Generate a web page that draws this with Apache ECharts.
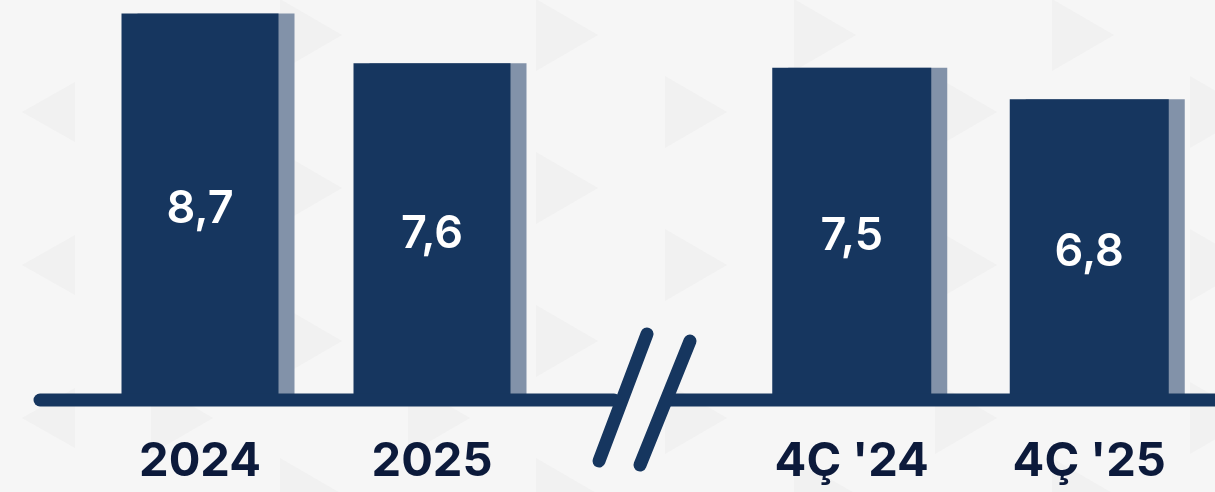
<!DOCTYPE html>
<html>
<head>
<meta charset="utf-8">
<script src="https://cdn.jsdelivr.net/npm/echarts@6/dist/echarts.min.js"></script>
<style>
html,body{margin:0;padding:0;background:#f6f6f6;}
#chart{width:1215px;height:492px;}
</style>
</head>
<body>
<div id="chart"></div>
<script>
// ---- data ----
const categoriesLeft = ['2024', '2025'];
const valuesLeft = [8.7, 7.6];
const categoriesRight = ["4Ç '24", "4Ç '25"];
const valuesRight = [7.5, 6.8];

// ---- styles ----
const NAVY = '#16365f';
const SHADE = '#8292a9';
const LABEL_DARK = '#0c1a3b';
const TRI = '#f1f1f1';

function tri(baseX, cy, dir, w, h) {
  // decorative background triangle
  const tip = baseX + dir * w;
  return {
    type: 'polygon', silent: true, z: -10,
    shape: { points: [[baseX, cy - h / 2], [baseX, cy + h / 2], [tip, cy]] },
    style: { fill: TRI }
  };
}
const bgShapes = [];
[112, 265, 418].forEach(c => bgShapes.push(tri(75, c, -1, 53, 60)));
const colsA = [280, 536, 794, 1052];
const colsB = [151, 408, 665, 935, 1190];
colsA.forEach(x => [35, 188, 341, 494].forEach(c => bgShapes.push(tri(x, c, 1, 62, 72))));
colsB.forEach(x => [-41, 112, 265, 418].forEach(c => bgShapes.push(tri(x, c, 1, 62, 72))));

const lineStyle = { stroke: NAVY, lineWidth: 13, lineCap: 'round' };
const decor = [
  { type: 'line', silent: true, z: 100, shape: { x1: 40, y1: 400, x2: 614, y2: 400 }, style: lineStyle },
  { type: 'line', silent: true, z: 100, shape: { x1: 670, y1: 400, x2: 1240, y2: 400 }, style: lineStyle },
  { type: 'line', silent: true, z: 101, shape: { x1: 647, y1: 334, x2: 599, y2: 461 }, style: lineStyle },
  { type: 'line', silent: true, z: 101, shape: { x1: 690, y1: 341, x2: 640, y2: 465 }, style: lineStyle }
];

const valueLabel = {
  show: true,
  position: 'inside',
  color: '#ffffff',
  fontFamily: 'Inter',
  fontWeight: 600,
  fontSize: 45,
  formatter: p => String(p.value).replace('.', ',')
};
const barItem = {
  color: NAVY,
  shadowColor: SHADE,
  shadowBlur: 0,
  shadowOffsetX: 16,
  shadowOffsetY: 0
};
const catLabel = {
  color: LABEL_DARK,
  fontFamily: 'Inter',
  fontWeight: 'bold',
  fontSize: 47,
  margin: 32
};

const chart = echarts.init(document.getElementById('chart'), null, { renderer: 'canvas' });
chart.setOption({
  backgroundColor: '#f6f6f6',
  animation: false,
  grid: [
    { left: 84, width: 464, top: -2, bottom: 86 },
    { left: 733, width: 475, top: -2, bottom: 86 }
  ],
  xAxis: [
    { type: 'category', gridIndex: 0, data: categoriesLeft, axisLine: { show: false }, axisTick: { show: false }, axisLabel: catLabel },
    { type: 'category', gridIndex: 1, data: categoriesRight, axisLine: { show: false }, axisTick: { show: false }, axisLabel: catLabel }
  ],
  yAxis: [
    { type: 'value', gridIndex: 0, min: 0, max: 9, show: false },
    { type: 'value', gridIndex: 1, min: 0, max: 9, show: false }
  ],
  graphic: bgShapes.concat(decor),
  series: [
    { type: 'bar', xAxisIndex: 0, yAxisIndex: 0, data: valuesLeft, barWidth: 157, itemStyle: barItem, label: valueLabel },
    { type: 'bar', xAxisIndex: 1, yAxisIndex: 1, data: valuesRight, barWidth: 159, itemStyle: barItem, label: valueLabel }
  ]
});
</script>
</body>
</html>
